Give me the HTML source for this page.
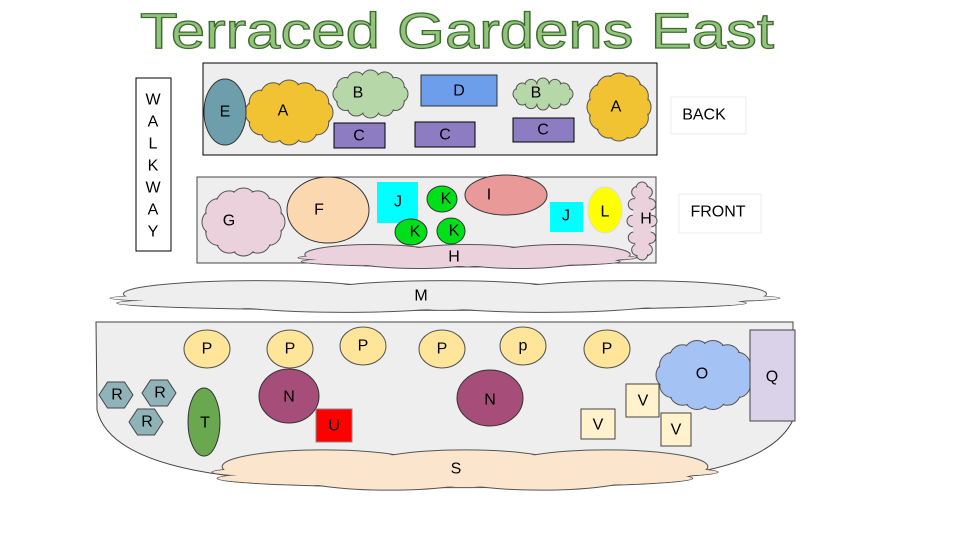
<!DOCTYPE html>
<html><head><meta charset="utf-8"><style>
html,body{margin:0;padding:0;background:#fff;width:960px;height:540px;overflow:hidden}
svg text{font-family:"Liberation Sans",sans-serif;font-size:16px;text-anchor:middle;dominant-baseline:central;fill:#000}
</style></head><body>
<svg id="s" width="960" height="540" viewBox="0 0 960 540" xmlns="http://www.w3.org/2000/svg">
<text x="140" y="48" textLength="634" lengthAdjust="spacingAndGlyphs" style="font-size:50px;fill:#93c47d;stroke:#3d6b2e;stroke-width:1.2px;text-anchor:start;dominant-baseline:alphabetic">Terraced  Gardens  East</text>
<rect x="136" y="78" width="35" height="173" fill="#fff" stroke="#000"/>
<g id="walk"></g>
<rect x="203" y="63" width="454" height="92" fill="#eeeeee" stroke="#000"/>
<rect x="197" y="177" width="459" height="86" fill="#eeeeee" stroke="#444"/>
<rect x="671" y="97" width="75" height="37" fill="#fff" stroke="#eee"/><text x="704" y="115">BACK</text>
<rect x="679" y="194" width="82" height="39" fill="#fff" stroke="#eee"/><text x="718" y="212">FRONT</text>
<path d="M96,322 L793,322 L793,420 Q770,468 650,478 L250,478 Q110,465 97,410 Z" fill="#eeeeee" stroke="#444"/>
<g id="clouds"></g>
<g id="fg">
<ellipse cx="225" cy="112" rx="21" ry="33" fill="#6d9eab" stroke="#333"/><text x="225" y="112">E</text>
<rect x="421" y="75" width="76" height="31" fill="#6d9eeb" stroke="#333"/><text x="459" y="91">D</text>
<rect x="334" y="123" width="51" height="25" fill="#8e7cc3" stroke="#000"/><text x="359" y="136">C</text>
<rect x="415" y="122" width="60" height="25" fill="#8e7cc3" stroke="#000"/><text x="445" y="135">C</text>
<rect x="513" y="118" width="61" height="24" fill="#8e7cc3" stroke="#000"/><text x="543" y="130">C</text>
<ellipse cx="328" cy="210" rx="41" ry="33" fill="#fcd8b0" stroke="#333"/><text x="319" y="210">F</text>
<rect x="377" y="182" width="41" height="41" fill="#00ffff"/><text x="398" y="202">J</text>
<rect x="550" y="202" width="33" height="30" fill="#00ffff"/><text x="566" y="216">J</text>
<ellipse cx="442" cy="199" rx="15" ry="13" fill="#00e01a" stroke="#333"/><text x="446" y="199">K</text>
<ellipse cx="411" cy="232" rx="16" ry="13" fill="#00e01a" stroke="#333"/><text x="415" y="232">K</text>
<ellipse cx="451" cy="231" rx="14" ry="13" fill="#00e01a" stroke="#333"/><text x="454" y="231">K</text>
<ellipse cx="506" cy="195" rx="41" ry="20" fill="#ea9999" stroke="#333"/><text x="489" y="195">I</text>
<ellipse cx="605" cy="210" rx="17" ry="23" fill="#ffff00" stroke="#ddd"/><text x="605" y="212">L</text>
<rect x="750" y="330" width="45" height="91" fill="#d9d2e9" stroke="#444"/><text x="772" y="377">Q</text>
<g id="ps"></g>
<ellipse cx="289" cy="396" rx="30" ry="27" fill="#a64d79" stroke="#333"/><text x="289" y="397">N</text>
<ellipse cx="490" cy="398" rx="33" ry="28" fill="#a64d79" stroke="#333"/><text x="490" y="400">N</text>
<rect x="316" y="409" width="36" height="33" fill="#ff0000" stroke="#888"/><text x="334" y="426">U</text>
<ellipse cx="204" cy="422" rx="16" ry="34" fill="#6aa84f" stroke="#333"/><text x="205" y="423">T</text>
<rect x="581" y="409" width="34" height="30" fill="#fff2cc" stroke="#444"/><text x="598" y="425">V</text>
<rect x="626" y="384" width="33" height="33" fill="#fff2cc" stroke="#444"/><text x="643" y="401">V</text>
<rect x="661" y="413" width="30" height="33" fill="#fff2cc" stroke="#444"/><text x="676" y="430">V</text>
<g id="hex"></g>
</g>
<g id="lbl">
<text x="283" y="111">A</text><text x="358" y="93">B</text><text x="536" y="93">B</text><text x="616" y="107">A</text>
<text x="229" y="221">G</text><text x="646" y="219">H</text><text x="454" y="257">H</text>
<text x="421" y="296">M</text><text x="702" y="374">O</text><text x="456" y="469">S</text>
</g>
</svg>
<script>
var NS="http://www.w3.org/2000/svg";
function el(p,t,a,txt){var e=document.createElementNS(NS,t);for(var k in a)e.setAttribute(k,a[k]);if(txt)e.textContent=txt;p.appendChild(e);return e;}
var w=document.getElementById('walk');
"WALKWAY".split("").forEach(function(c,i){el(w,'text',{x:153,y:100+i*22},c);});
var ps=document.getElementById('ps');
[[207,"P"],[290,"P"],[363,"P"],[442,"P"],[523,"p"],[607,"P"]].forEach(function(p,i){
 var y=(i==2||i==4)?346:349;
 el(ps,'ellipse',{cx:p[0],cy:y,rx:23,ry:19,fill:'#ffe599',stroke:'#555'});el(ps,'text',{x:p[0],y:y},p[1]);});
var hx=document.getElementById('hex');
[[116,395],[159,393],[146,422]].forEach(function(c){
 var pts=[];for(var i=0;i<6;i++){var a=Math.PI/3*i;pts.push((c[0]+17*Math.cos(a))+","+(c[1]+15*Math.sin(a)));}
 el(hx,'polygon',{points:pts.join(' '),fill:'#8fb3b8',stroke:'#444'});el(hx,'text',{x:c[0]+1,y:c[1]},'R');});
var cl=document.getElementById('clouds');
function draw(g,list,fill){
 list.forEach(function(e){el(g,'ellipse',{cx:e[0],cy:e[1],rx:e[2],ry:e[3],fill:fill,stroke:'#555'});});
 list.forEach(function(e){el(g,'ellipse',{cx:e[0],cy:e[1],rx:e[2]-1,ry:e[3]-1,fill:fill});});
}
function cloud(x1,y1,x2,y2,fill,n){
 var cx=(x1+x2)/2,cy=(y1+y2)/2,rx=(x2-x1)/2,ry=(y2-y1)/2;
 var r=Math.min(rx,ry)*0.38;var g=el(cl,'g',{});var list=[];
 for(var i=0;i<n;i++){var a=2*Math.PI*i/n;list.push([cx+(rx-r)*Math.cos(a),cy+(ry-r)*Math.sin(a),r,r]);}
 draw(g,list,fill);
 el(g,'ellipse',{cx:cx,cy:cy,rx:rx-r,ry:ry-r,fill:fill});
}
function flat(x1,y1,x2,y2,fill){
 var W=x2-x1,H=y2-y1,g=el(cl,'g',{});
 var list=[[x1+W*0.5,y1+H*0.55,W*0.5,H*0.2],[x1+W*0.48,y1+H*0.7,W*0.47,H*0.22]];
 [0.22,0.5,0.78].forEach(function(f,i){list.push([x1+W*f,y1+H*0.42,W*0.2,H*0.4]);});
 [0.35,0.65].forEach(function(f){list.push([x1+W*f,y1+H*0.58,W*0.2,H*0.4]);});
 draw(g,list,fill);
}
flat(110,280,780,313,'#eeeeee');
flat(212,449,718,491,'#fce5cd');
flat(298,244,637,269,'#ead1dc');
cloud(245,80,333,145,'#f1c232',12);
cloud(333,70,408,118,'#b6d7a8',12);
cloud(513,78,573,110,'#b6d7a8',12);
cloud(587,73,651,141,'#f1c232',12);
cloud(202,188,285,256,'#ead1dc',12);
cloud(627,182,657,260,'#ead1dc',12);
cloud(656,340,754,410,'#a4c2f4',14);
</script>
</body></html>
